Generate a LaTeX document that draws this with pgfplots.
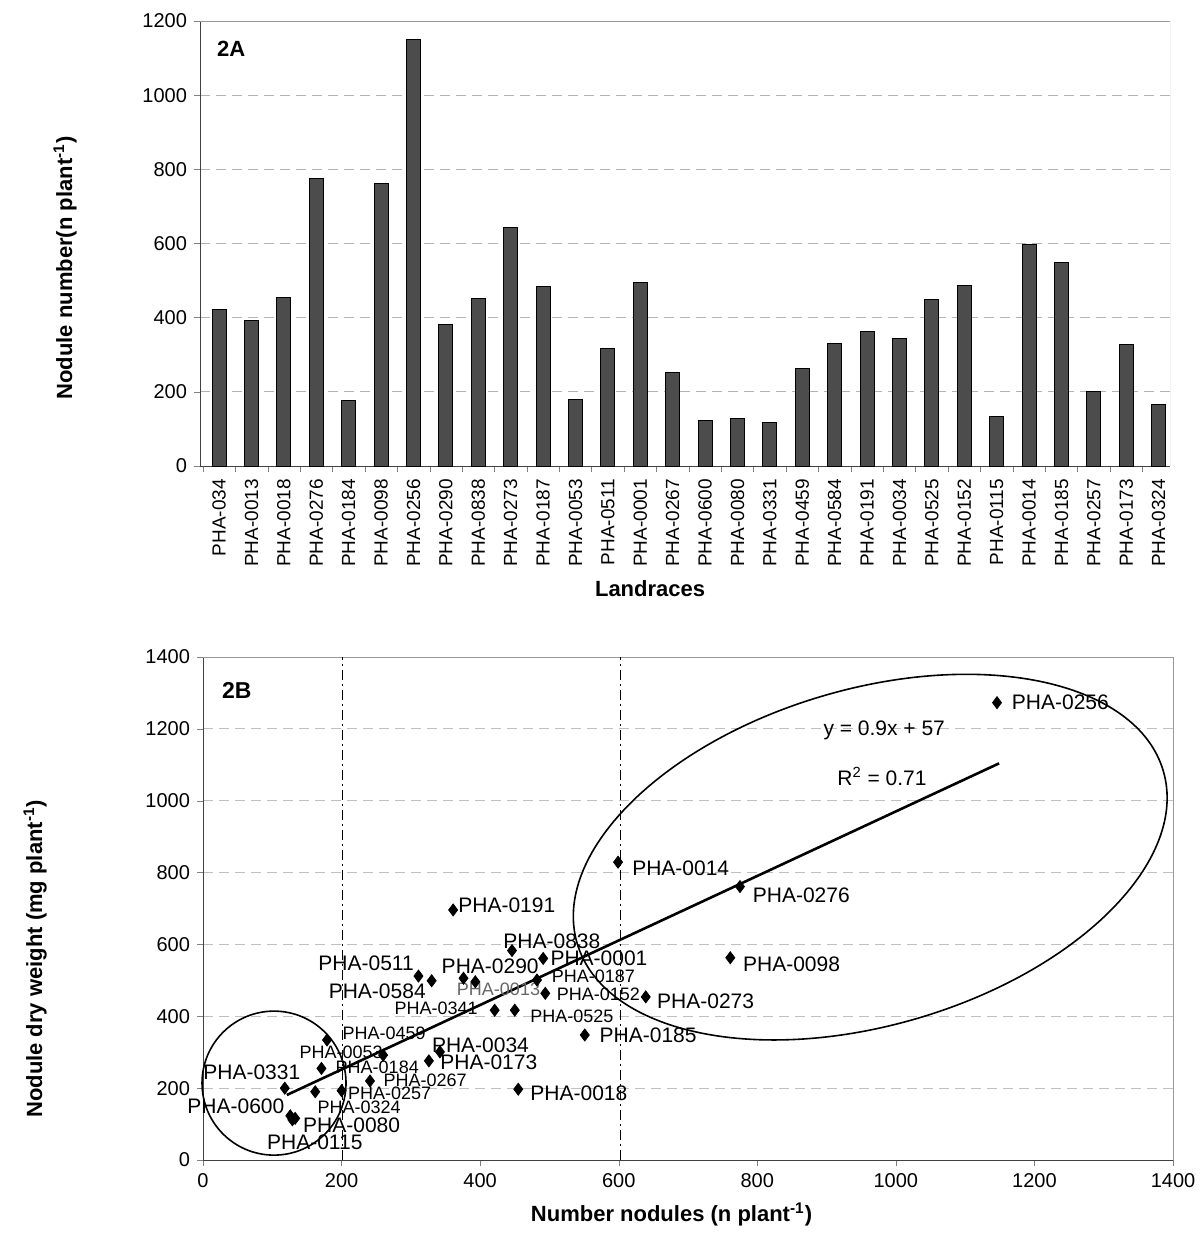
\documentclass[border=0pt]{standalone}
\usepackage{fontspec}
\setmainfont{Liberation Sans}
\usepackage{pgfplots}
\pgfplotsset{compat=1.18}
\usetikzlibrary{shapes.geometric}
\newcommand\LB{\fontsize{10.5}{12}\selectfont}
\newcommand\LS{\fontsize{9}{11}\selectfont}
\begin{document}
\begin{tikzpicture}
\path[use as bounding box] (0,0) rectangle (602pt,-627pt);
% ---------------- 2A ----------------
\begin{axis}[
  at={(100pt,-233pt)}, anchor=south west,
  scale only axis, width=485pt, height=222.5pt,
  xmin=-0.59, xmax=29.35, ymin=0, ymax=1200,
  ytick={0,200,...,1200},
  xtick={0,...,29},
  xticklabels={PHA-034,PHA-0013,PHA-0018,PHA-0276,PHA-0184,PHA-0098,PHA-0256,PHA-0290,PHA-0838,PHA-0273,PHA-0187,PHA-0053,PHA-0511,PHA-0001,PHA-0267,PHA-0600,PHA-0080,PHA-0331,PHA-0459,PHA-0584,PHA-0191,PHA-0034,PHA-0525,PHA-0152,PHA-0115,PHA-0014,PHA-0185,PHA-0257,PHA-0173,PHA-0324},
  xticklabel style={rotate=90, anchor=east, font=\fontsize{9.5}{11}\selectfont},
  yticklabel style={font=\fontsize{10}{12}\selectfont},
  /pgf/number format/assume math mode=true,
  /pgf/number format/1000 sep={},
  major x tick style={draw=none},
  minor xtick={-0.5,0.5,...,29.5},
  minor tick length=3pt, major tick length=3pt,
  tick align=outside,
  ymajorgrids, grid style={black!30, dash pattern=on 5pt off 3pt, line width=0.4pt},
  axis x line*=bottom, axis y line*=left, axis line style={-, black!75},
  xlabel={Landraces},
  ylabel={Nodule number(n plant\textsuperscript{-1})},
  xlabel style={at={(axis description cs:0.464,-0.276)}, anchor=center, font=\bfseries\fontsize{11}{13}\selectfont},
  ylabel style={at={(axis description cs:-0.139,0.445)}, anchor=center, font=\bfseries\fontsize{11}{13}\selectfont},
]
\addplot[ybar, bar width=7pt, fill=black!70, draw=black, line width=0.5pt] table {
x y
0 423
1 393
2 454
3 776
4 176
5 762
6 1150
7 382
8 451
9 642
10 485
11 179
12 318
13 496
14 251
15 122
16 127
17 117
18 263
19 331
20 362
21 343
22 450
23 488
24 133
25 598
26 549
27 200
28 327
29 165
};
\draw[black!40] (rel axis cs:0,1) -- (rel axis cs:1,1) -- (rel axis cs:1,0);
\node[anchor=west, inner sep=0pt, font=\bfseries\fontsize{11}{13}\selectfont] at (axis cs:-0.07,1126) {2A};
\end{axis}
% ---------------- 2B ----------------
\begin{axis}[
  at={(101.5pt,-580pt)}, anchor=south west,
  scale only axis, width=485pt, height=251.5pt,
  xmin=0, xmax=1400, ymin=0, ymax=1400,
  xtick={0,200,...,1400}, ytick={0,200,...,1400},
  ticklabel style={font=\fontsize{10}{12}\selectfont},
  /pgf/number format/assume math mode=true,
  /pgf/number format/1000 sep={},
  tick align=outside, major tick length=3pt,
  ymajorgrids, grid style={black!25, dash pattern=on 5pt off 3pt, line width=0.4pt},
  axis x line*=bottom, axis y line*=left, axis line style={-, black!75},
  clip=false,
  xlabel={Number nodules (n plant\textsuperscript{-1})},
  ylabel={Nodule dry weight (mg plant\textsuperscript{-1})},
  xlabel style={at={(axis description cs:0.483,-0.109)}, anchor=center, font=\bfseries\fontsize{11}{13}\selectfont},
  ylabel style={at={(axis description cs:-0.173,0.40)}, anchor=center, font=\bfseries\fontsize{11}{13}\selectfont},
]
\draw[black!40] (rel axis cs:0,1) -- (rel axis cs:1,1) -- (rel axis cs:1,0);
\addplot[black, line width=0.6pt, dash pattern=on 5pt off 2pt on 1pt off 2pt] coordinates {(201,0) (201,1400)};
\addplot[black, line width=0.6pt, dash pattern=on 5pt off 2pt on 1pt off 2pt] coordinates {(602,0) (602,1400)};
\addplot[black, line width=1.3pt] coordinates {(121,181) (1149,1104)};
\addplot[only marks, mark=diamond*, mark size=3pt, black] table {
x y
1146 1273
599 829
775 761
761 563
639 454
551 348
455 197
361 696
446 583
491 561
482 501
494 464
450 417
421 417
376 506
393 496
311 512
330 499
342 301
326 276
260 292
179 334
171 255
241 220
200 193
162 190
118 200
126 123
133 116
129 112
};
\node[draw, ellipse, rotate=16.4, minimum width=305.5pt, minimum height=168pt, inner sep=0pt, line width=0.8pt] at (axis cs:963,843) {};
\node[draw, circle, minimum size=72pt, inner sep=0pt, line width=0.8pt] at (axis cs:102.5,214) {};
\node[anchor=west, inner sep=0pt, font=\bfseries\fontsize{11.5}{13}\selectfont] at (axis cs:27,1308) {2B};
\node[anchor=west, inner sep=0pt, font=\LB] at (axis cs:895,1197) {y = 0.9x + 57};
\node[anchor=west, inner sep=0pt, font=\LB] at (axis cs:915,1067) {R\textsuperscript{2} = 0.71};
% point labels
\node[anchor=west, inner sep=0pt, font=\LB] at (axis cs:1167,1273) {PHA-0256};
\node[anchor=west, inner sep=0pt, font=\LB] at (axis cs:619,812) {PHA-0014};
\node[anchor=west, inner sep=0pt, font=\LB] at (axis cs:793,738) {PHA-0276};
\node[anchor=west, inner sep=0pt, font=\LB] at (axis cs:779,546) {PHA-0098};
\node[anchor=west, inner sep=0pt, font=\LB] at (axis cs:655,443) {PHA-0273};
\node[anchor=west, inner sep=0pt, font=\LB] at (axis cs:572,348) {PHA-0185};
\node[anchor=west, inner sep=0pt, font=\LB] at (axis cs:472,186) {PHA-0018};
\node[anchor=west, inner sep=0pt, font=\LB] at (axis cs:368,710) {PHA-0191};
\node[anchor=west, inner sep=0pt, font=\LB] at (axis cs:433,608) {PHA-0838};
\node[anchor=west, inner sep=0pt, font=\LB] at (axis cs:501,561) {PHA-0001};
\node[anchor=west, inner sep=0pt, font=\LS] at (axis cs:503,510) {PHA-0187};
\node[anchor=west, inner sep=0pt, font=\LS] at (axis cs:510,462) {PHA-0152};
\node[anchor=west, inner sep=0pt, font=\LS] at (axis cs:472,401) {PHA-0525};
\node[anchor=west, inner sep=0pt, font=\LS] at (axis cs:276,422) {PHA-0341};
\node[anchor=west, inner sep=0pt, font=\LB] at (axis cs:344,540) {PHA-0290};
\node[anchor=west, inner sep=0pt, font=\LS, text=black!60] at (axis cs:366,475) {PHA-0013};
\node[anchor=west, inner sep=0pt, font=\LB] at (axis cs:166,547) {PHA-0511};
\node[anchor=west, inner sep=0pt, font=\LB] at (axis cs:181,471) {PHA-0584};
\node[anchor=west, inner sep=0pt, font=\LB] at (axis cs:330,320) {PHA-0034};
\node[anchor=west, inner sep=0pt, font=\LB] at (axis cs:342,271) {PHA-0173};
\node[anchor=west, inner sep=0pt, font=\LS] at (axis cs:201,353) {PHA-0459};
\node[anchor=west, inner sep=0pt, font=\LS] at (axis cs:139,301) {PHA-0053};
\node[anchor=west, inner sep=0pt, font=\LS] at (axis cs:191,259) {PHA-0184};
\node[anchor=west, inner sep=0pt, font=\LS] at (axis cs:260,223) {PHA-0267};
\node[anchor=west, inner sep=0pt, font=\LS] at (axis cs:209,186) {PHA-0257};
\node[anchor=west, inner sep=0pt, font=\LS] at (axis cs:165,148) {PHA-0324};
\node[anchor=west, inner sep=0pt, font=\LB] at (axis cs:0,245) {PHA-0331};
\node[anchor=west, inner sep=0pt, font=\LB] at (axis cs:-23,150) {PHA-0600};
\node[anchor=west, inner sep=0pt, font=\LB] at (axis cs:144,97) {PHA-0080};
\node[anchor=west, inner sep=0pt, font=\LB] at (axis cs:92,50) {PHA-0115};
\end{axis}
\end{tikzpicture}
\end{document}
